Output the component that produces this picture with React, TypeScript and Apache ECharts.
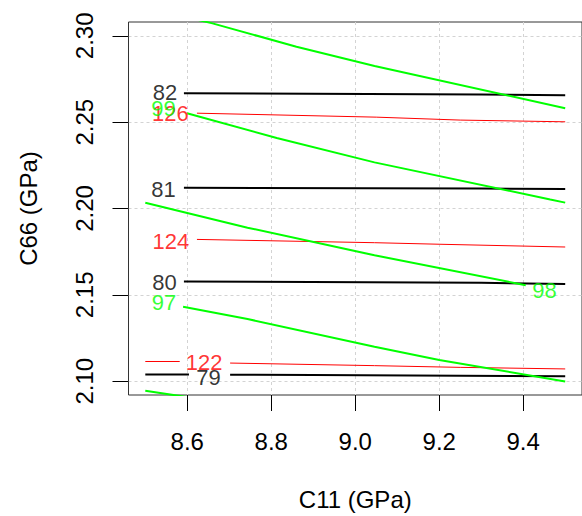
import React, { useEffect, useRef } from "react";
import * as echarts from "echarts";

const xTicks = [8.6, 8.8, 9.0, 9.2, 9.4];
const yTicks = [2.1, 2.15, 2.2, 2.25, 2.3];

// black contours
const c79a = [[8.5, 2.1038], [8.604, 2.1038]];
const c79b = [[8.702, 2.1037], [8.9, 2.1036], [9.5, 2.1029]];
const c80 = [[8.592, 2.1577], [9.3, 2.157], [9.5, 2.1563]];
const c81 = [[8.592, 2.212], [9.3, 2.2116], [9.5, 2.2113]];
const c82 = [[8.592, 2.2668], [9.3, 2.266], [9.5, 2.2656]];

// red contours
const c122a = [[8.5, 2.1114], [8.582, 2.1114]];
const c122b = [[8.702, 2.1105], [9.046, 2.109], [9.25, 2.108], [9.5, 2.1071]];
const c124 = [[8.623, 2.1821], [9.046, 2.1802], [9.2, 2.1793], [9.5, 2.1777]];
const c126 = [[8.623, 2.2552], [9.05, 2.2529], [9.25, 2.2512], [9.5, 2.2502]];

// green contours
const c96 = [[8.5, 2.0944], [8.6, 2.0908]];
const c97 = [[8.59, 2.1431], [8.7435, 2.136], [9.0458, 2.12], [9.2, 2.1123], [9.5, 2.0998]];
const c98 = [[8.5, 2.2033], [8.7435, 2.1889], [9.0458, 2.1729], [9.406, 2.1556]];
const c99 = [[8.5993, 2.2552], [8.813, 2.2408], [9.0458, 2.2267], [9.4644, 2.2052], [9.5, 2.2034]];
const c100 = [[8.5, 2.3165], [8.66, 2.3072], [8.86, 2.2937], [9.046, 2.2825], [9.5, 2.2581]];

// contour labels: [x, y, text]
const blackLabels = [
  [8.547, 2.2669, "82"],
  [8.5435, 2.211, "81"],
  [8.5458, 2.157, "80"],
  [8.6505, 2.1019, "79"],
];
const redLabels = [
  [8.5598, 2.2551, "126"],
  [8.561, 2.1807, "124"],
  [8.64, 2.1109, "122"],
];
const greenLabels = [
  [8.5435, 2.2577, "99"],
  [8.5447, 2.1455, "97"],
  [9.4505, 2.1527, "98"],
];

const BLACK = "#000000";
const RED = "#FF0000";
const GREEN = "#00FF00";
const FONT = "Liberation Sans, Arial, sans-serif";

function lineSeries(data: number[][], color: string, width: number) {
  return {
    type: "line",
    data,
    symbol: "none",
    smooth: false,
    clip: true,
    silent: true,
    lineStyle: { color, width },
    z: 3,
  };
}

function labelSeries(labels: any[], color: string) {
  return {
    type: "scatter",
    data: labels.map((l) => ({ value: [l[0], l[1]], name: l[2] })),
    symbol: "circle",
    symbolSize: 1,
    itemStyle: { color: "rgba(0,0,0,0)" },
    silent: true,
    z: 5,
    label: {
      show: true,
      position: "inside",
      formatter: (p: any) => p.name,
      color,
      fontSize: 22,
      fontFamily: FONT,
    },
  };
}

export default function App() {
  const ref = useRef<HTMLDivElement>(null);
  useEffect(() => {
    const chart = echarts.init(ref.current!, undefined, { renderer: "svg" });
    chart.setOption({
      animation: false,
      backgroundColor: "#ffffff",
      grid: {
        left: 128.5,
        top: 22,
        width: 464.4,
        height: 374,
        show: true,
        borderColor: "#333333",
        borderWidth: 1,
        backgroundColor: "transparent",
      },
      xAxis: {
        type: "value",
        min: 8.46,
        max: 9.54,
        name: "C11 (GPa)",
        nameLocation: "middle",
        nameGap: 92,
        nameTextStyle: { fontSize: 24, color: "#000", fontFamily: FONT },
        axisLine: { show: false },
        axisTick: {
          show: true,
          inside: false,
          length: 16,
          customValues: xTicks,
          lineStyle: { color: "#000", width: 1 },
        },
        axisLabel: {
          customValues: xTicks,
          margin: 34,
          fontSize: 24,
          color: "#000",
          fontFamily: FONT,
          formatter: (v: number) => v.toFixed(1),
        },
        splitLine: {
          show: true,
          lineStyle: { color: "#D3D3D3", type: [3, 3], width: 1 },
        },
      },
      yAxis: {
        type: "value",
        min: 2.092,
        max: 2.308,
        name: "C66 (GPa)",
        nameLocation: "middle",
        nameGap: 88.5,
        nameRotate: 90,
        nameTextStyle: { fontSize: 24, color: "#000", fontFamily: FONT },
        axisLine: { show: false },
        axisTick: {
          show: true,
          inside: false,
          length: 16,
          customValues: yTicks,
          lineStyle: { color: "#000", width: 1 },
        },
        axisLabel: {
          customValues: yTicks,
          rotate: 90,
          margin: 32.5,
          fontSize: 24,
          color: "#000",
          fontFamily: FONT,
          formatter: (v: number) => v.toFixed(2),
        },
        splitLine: {
          show: true,
          lineStyle: { color: "#D3D3D3", type: [3, 3], width: 1 },
        },
      },
      series: [
        lineSeries(c79a, BLACK, 2),
        lineSeries(c79b, BLACK, 2),
        lineSeries(c80, BLACK, 2),
        lineSeries(c81, BLACK, 2),
        lineSeries(c82, BLACK, 2),
        lineSeries(c122a, RED, 1),
        lineSeries(c122b, RED, 1),
        lineSeries(c124, RED, 1),
        lineSeries(c126, RED, 1),
        lineSeries(c96, GREEN, 2),
        lineSeries(c97, GREEN, 2),
        lineSeries(c98, GREEN, 2),
        lineSeries(c99, GREEN, 2),
        lineSeries(c100, GREEN, 2),
        labelSeries(blackLabels, BLACK),
        labelSeries(redLabels, RED),
        labelSeries(greenLabels, GREEN),
      ],
    });
    return () => chart.dispose();
  }, []);
  return (
    <div
      ref={ref}
      style={{ position: "absolute", left: 0, top: 0, width: 582, height: 516 }}
    />
  );
}
